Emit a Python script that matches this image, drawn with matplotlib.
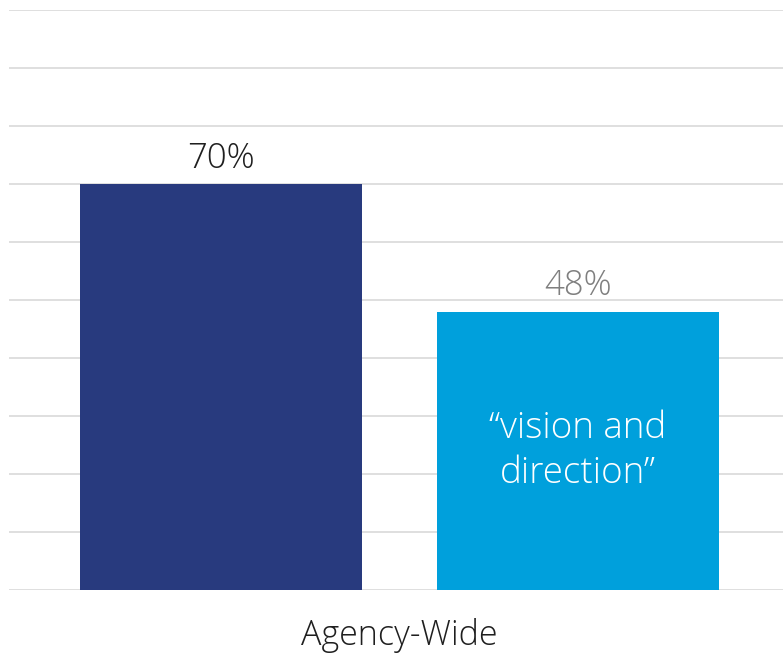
import matplotlib.pyplot as plt

plt.rcParams['font.family'] = ['Open Sans', 'DejaVu Sans']

# bar values (percent)
groups = ['Agency-Wide']
values = [70, 48]
value_labels = ['70%', '48%']
label_colors = ['#1f1f1f', '#7f7f7f']
bar_colors = ['#283a7e', '#00a0dc']
inner_text = '\u201cvision and\ndirection\u201d'

fig = plt.figure(figsize=(7.83, 6.56), dpi=100)
ax = fig.add_axes([9 / 783, 66 / 656, 1 - 9 / 783, 580 / 656])

xpos = [0, 1]
ax.bar(xpos, values, width=0.79, color=bar_colors, zorder=2)

for x, v, lab, c in zip(xpos, values, value_labels, label_colors):
    ax.annotate(lab, (x, v), xytext=(0, 6), textcoords='offset points',
                ha='center', va='bottom', fontsize=25, color=c,
                fontweight='light')

ax.text(1, 24, inner_text, ha='center', va='center', fontsize=26.5,
        color='white', linespacing=1.3, zorder=3, fontweight='light')

ax.set_ylim(0, 100)
ax.set_xlim(-0.594, 1.574)
ax.set_yticks(range(0, 101, 10))
ax.yaxis.grid(True, color='#d9d9d9', linewidth=1.2, zorder=0)
ax.set_axisbelow(True)
ax.tick_params(axis='y', left=False, labelleft=False)
ax.set_xticks([0.5])
ax.set_xticklabels(groups, fontsize=24.5, color='#1f1f1f', fontweight='light')
ax.tick_params(axis='x', length=0, pad=20)
for s in ax.spines.values():
    s.set_visible(False)

fig.savefig('out.png', dpi=100)
